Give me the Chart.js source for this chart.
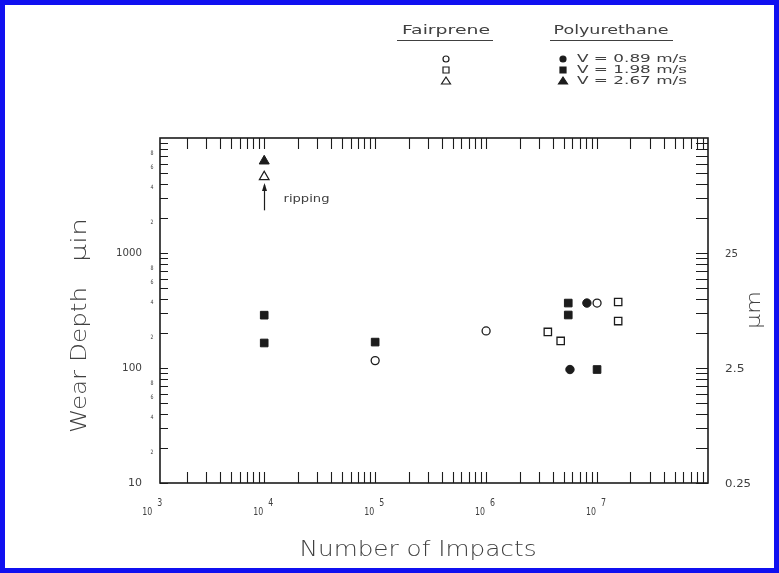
<!DOCTYPE html>
<html>
<head>
<meta charset="utf-8">
<script src="https://cdn.jsdelivr.net/npm/chart.js@4.4.1/dist/chart.umd.min.js"></script>
<style>
  html, body { margin: 0; padding: 0; background: #fff; }
  canvas { display: block; }
</style>
</head>
<body>
<canvas id="wearChart" width="779" height="573"></canvas>
<script>
// number of impacts (x) and wear depth in micro-inches (y)
const fairprene089Impacts = [1e5, 1e6, 1e7];
const fairprene089Depth = [116, 210, 367];
const fairprene198Impacts = [3.6e6, 4.7e6, 1.55e7, 1.55e7];
const fairprene198Depth = [206, 172, 375, 256];
const fairprene267Impacts = [1e4];
const fairprene267Depth = [4600];

const poly089Impacts = [8.1e6, 5.7e6];
const poly089Depth = [367, 97];
const poly198Impacts = [1e4, 1e4, 1e5, 5.5e6, 5.5e6, 1e7];
const poly198Depth = [288, 165, 168, 367, 289, 97];
const poly267Impacts = [1e4];
const poly267Depth = [6300];

const speedLabels = ['V = 0.89 m/s', 'V = 1.98 m/s', 'V = 2.67 m/s'];
const impactExponents = [3, 4, 5, 6, 7];
const depthTicks = [10, 100, 1000];
const micronTicks = [0.25, 2.5, 25];
const micronLabels = ['0.25', '2.5', '25'];

const ink = '#1c1c1c';
const textInk = '#404040';
const face = '"DejaVu Sans", sans-serif';

function pts(xs, ys) {
    return xs.map((v, i) => ({ x: v, y: ys[i] }));
}

// draw a string squeezed/stretched to a given width
function fitText(ctx, str, x, y, width, size, align, weight) {
    ctx.save();
    ctx.font = (weight || 'normal') + ' ' + size + 'px ' + face;
    const w = ctx.measureText(str).width;
    ctx.translate(x, y);
    ctx.scale(width / w, 1);
    ctx.textAlign = align || 'center';
    ctx.textBaseline = 'middle';
    ctx.fillText(str, 0, 0);
    ctx.restore();
}

function marker(ctx, style, x, y, filled) {
    ctx.beginPath();
    if (style === 'circle') {
        ctx.arc(x, y, 3, 0, Math.PI * 2);
    } else if (style === 'rect') {
        ctx.rect(x - 3, y - 3, 6, 6);
    } else {
        ctx.moveTo(x, y - 4);
        ctx.lineTo(x + 4.5, y + 3);
        ctx.lineTo(x - 4.5, y + 3);
        ctx.closePath();
    }
    if (filled) { ctx.fillStyle = ink; ctx.fill(); }
    ctx.lineWidth = 1.2;
    ctx.strokeStyle = ink;
    ctx.stroke();
}

// frame, inward log ticks, labels, titles, legend and annotation
const paperPlugin = {
    id: 'paper',
    afterDraw(chart) {
        const { ctx, chartArea: a } = chart;
        const xs = chart.scales.x, ys = chart.scales.y, y2 = chart.scales.y2;
        ctx.save();

        ctx.strokeStyle = ink;
        ctx.lineWidth = 1.6;
        ctx.strokeRect(a.left, a.top, a.width, a.height);

        ctx.lineWidth = 1.1;
        ctx.beginPath();
        for (let e = 3; e <= 7; e++) {
            for (let m = 1; m <= 9; m++) {
                const v = m * Math.pow(10, e);
                if (v < xs.min || v > xs.max) continue;
                const px = Math.round(xs.getPixelForValue(v)) + 0.5;
                ctx.moveTo(px, a.top); ctx.lineTo(px, a.top + 11);
                ctx.moveTo(px, a.bottom); ctx.lineTo(px, a.bottom - 11);
            }
        }
        for (let e = 1; e <= 3; e++) {
            for (let m = 1; m <= 9; m++) {
                const v = m * Math.pow(10, e);
                const py = Math.round(ys.getPixelForValue(v)) + 0.5;
                ctx.moveTo(a.left, py); ctx.lineTo(a.left + 8, py);
                ctx.moveTo(a.right, py); ctx.lineTo(a.right - 12, py);
            }
        }
        ctx.stroke();

        ctx.fillStyle = textInk;
        // bottom decade labels
        impactExponents.forEach(e => {
            const px = xs.getPixelForValue(Math.pow(10, e));
            fitText(ctx, '10', px - 1, a.bottom + 29, 10, 10, 'right');
            fitText(ctx, String(e), px + 4, a.bottom + 20, 5, 10, 'left');
        });
        // left decade labels and small minor numerals
        depthTicks.forEach(v => {
            const py = ys.getPixelForValue(v);
            fitText(ctx, String(v), 142, py, 6 * String(v).length + 2, 11, 'right');
            [2, 4, 6, 8].forEach(m => {
                const pm = ys.getPixelForValue(m * v);
                fitText(ctx, String(m), 152, pm + 4, 3, 6, 'center');
            });
        });
        // right micrometre labels
        micronTicks.forEach((v, i) => {
            const py = y2.getPixelForValue(v);
            fitText(ctx, micronLabels[i], a.right + 17, py, 6.5 * micronLabels[i].length, 11, 'left');
        });

        // axis titles
        fitText(ctx, 'Number of Impacts', 418, 550, 237, 22, 'center', '200');
        ctx.save();
        ctx.translate(80, 0);
        ctx.rotate(-Math.PI / 2);
        fitText(ctx, 'Wear Depth', -360, 0, 146, 22, 'center', '200');
        fitText(ctx, 'μin', -240, 0, 44, 22, 'center', '200');
        ctx.restore();
        ctx.save();
        ctx.translate(755, 310);
        ctx.rotate(-Math.PI / 2);
        fitText(ctx, 'μm', 0, 0, 38, 20, 'center', '200');
        ctx.restore();

        // legend
        fitText(ctx, 'Fairprene', 446, 31, 88, 13, 'center');
        fitText(ctx, 'Polyurethane', 611, 31, 115, 13, 'center');
        ctx.lineWidth = 1.2;
        ctx.strokeStyle = textInk;
        ctx.beginPath();
        ctx.moveTo(397, 40.5); ctx.lineTo(493, 40.5);
        ctx.moveTo(550, 40.5); ctx.lineTo(673, 40.5);
        ctx.stroke();
        const styles = ['circle', 'rect', 'triangle'];
        const rows = [59, 70, 81];
        styles.forEach((s, i) => {
            marker(ctx, s, 446, rows[i], false);
            marker(ctx, s, 563, rows[i], true);
            ctx.fillStyle = textInk;
            fitText(ctx, speedLabels[i], 577, rows[i], 110, 10, 'left');
        });

        // ripping arrow under the 10^4 triangles
        const ax = Math.round(xs.getPixelForValue(1e4)) + 0.5;
        const aTop = ys.getPixelForValue(3900), aBot = ys.getPixelForValue(2350);
        ctx.strokeStyle = ink;
        ctx.lineWidth = 1.2;
        ctx.beginPath();
        ctx.moveTo(ax, aBot); ctx.lineTo(ax, aTop);
        ctx.stroke();
        ctx.fillStyle = ink;
        ctx.beginPath();
        ctx.moveTo(ax, aTop - 2);
        ctx.lineTo(ax + 2.5, aTop + 6);
        ctx.lineTo(ax - 2.5, aTop + 6);
        ctx.closePath();
        ctx.fill();
        ctx.fillStyle = textInk;
        fitText(ctx, 'ripping', ax + 19, ys.getPixelForValue(2950), 46, 11, 'left');

        // blue outer frame
        ctx.strokeStyle = '#1010f0';
        ctx.lineWidth = 5;
        ctx.strokeRect(2.5, 2.5, chart.width - 5, chart.height - 5);
        ctx.restore();
    }
};

function openSeries(label, data, style, r) {
    return { label, data, pointStyle: style, pointRadius: r, pointHoverRadius: r,
        backgroundColor: '#fff', borderColor: ink, borderWidth: 1.3 };
}
function filledSeries(label, data, style, r) {
    return { label, data, pointStyle: style, pointRadius: r, pointHoverRadius: r,
        backgroundColor: ink, borderColor: ink, borderWidth: 1 };
}

const ctx = document.getElementById('wearChart').getContext('2d');
new Chart(ctx, {
    type: 'scatter',
    data: {
        datasets: [
            openSeries('Fairprene ' + speedLabels[0], pts(fairprene089Impacts, fairprene089Depth), 'circle', 4),
            openSeries('Fairprene ' + speedLabels[1], pts(fairprene198Impacts, fairprene198Depth), 'rect', 5.2),
            openSeries('Fairprene ' + speedLabels[2], pts(fairprene267Impacts, fairprene267Depth), 'triangle', 5.5),
            filledSeries('Polyurethane ' + speedLabels[0], pts(poly089Impacts, poly089Depth), 'circle', 4.2),
            filledSeries('Polyurethane ' + speedLabels[1], pts(poly198Impacts, poly198Depth), 'rect', 5.4),
            filledSeries('Polyurethane ' + speedLabels[2], pts(poly267Impacts, poly267Depth), 'triangle', 5.8)
        ]
    },
    options: {
        responsive: false,
        animation: false,
        layout: { padding: { left: 160, right: 71, top: 138, bottom: 90 } },
        plugins: { legend: { display: false }, tooltip: { enabled: false } },
        scales: {
            x: { type: 'logarithmic', min: 1150, max: 1e8, display: false },
            y: { type: 'logarithmic', min: 10, max: 10000, display: false },
            y2: { type: 'logarithmic', min: 0.254, max: 254, display: false, position: 'right' }
        }
    },
    plugins: [paperPlugin]
});
</script>
</body>
</html>
